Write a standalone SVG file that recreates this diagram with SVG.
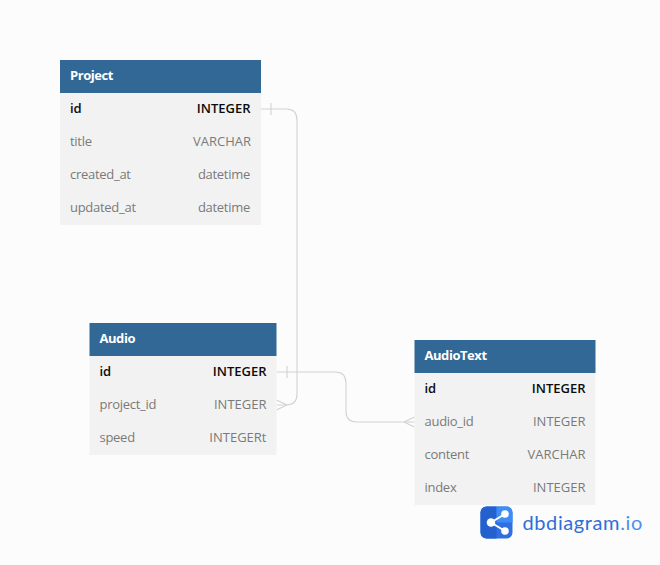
<svg xmlns="http://www.w3.org/2000/svg" width="660" height="565" viewBox="0 0 660 565">
<style>
text{font-family:"Open Sans","Noto Sans","Liberation Sans",sans-serif;font-size:13px}
.hd{fill:#316896}
.bd{fill:#f2f2f2}
.t{fill:#fff;font-weight:700;letter-spacing:-.45px}
.k{fill:#0c0c0c;font-weight:600}
.f{fill:#7a7a7a}
.n{letter-spacing:-.28px}
.e{text-anchor:end}
.c{fill:none;stroke:#d2d2d2;stroke-width:1.1}
</style>
<rect width="660" height="565" fill="#fcfcfc"/>
<g id="connectors">
<path class="c" d="M261 109H286Q297 109 297 120V394Q297 405 286 405H276.500"/>
<path class="c" d="M271 103V115M287 405L276.500 400M287 405L276.500 410"/>
<path class="c" d="M276.500 372H335Q346 372 346 383V411Q346 422 357 422H414.500"/>
<path class="c" d="M287 366V378M404 422L414.500 417M404 422L414.500 427"/>
</g>
<g id="Project">
<rect class="bd" x="60" y="93" width="201" height="132"/>
<rect class="hd" x="60" y="60" width="201" height="33"/>
<text class="t" x="70" y="80">Project</text>
<text class="k" x="70" y="113">id</text><text class="k e" x="250.500" y="113">INTEGER</text>
<text class="f n" x="70" y="146">title</text><text class="f e" x="251" y="146">VARCHAR</text>
<text class="f n" x="70" y="179">created_at</text><text class="f e n" x="250" y="179">datetime</text>
<text class="f n" x="70" y="212">updated_at</text><text class="f e n" x="250" y="212">datetime</text>
</g>
<g id="Audio">
<rect class="bd" x="89.500" y="356" width="187" height="99"/>
<rect class="hd" x="89.500" y="323" width="187" height="33"/>
<text class="t" x="99.500" y="343">Audio</text>
<text class="k" x="99.500" y="376">id</text><text class="k e" x="266.500" y="376">INTEGER</text>
<text class="f n" x="99.500" y="409">project_id</text><text class="f e" x="266.500" y="409">INTEGER</text>
<text class="f n" x="99.500" y="442">speed</text><text class="f e" x="266.500" y="442">INTEGERt</text>
</g>
<g id="AudioText">
<rect class="bd" x="414.500" y="373" width="181" height="132"/>
<rect class="hd" x="414.500" y="340" width="181" height="33"/>
<text class="t" x="424.500" y="360">AudioText</text>
<text class="k" x="424.500" y="393">id</text><text class="k e" x="585.500" y="393">INTEGER</text>
<text class="f n" x="424.500" y="426">audio_id</text><text class="f e" x="585.500" y="426">INTEGER</text>
<text class="f n" x="424.500" y="459">content</text><text class="f e" x="585.500" y="459">VARCHAR</text>
<text class="f n" x="424.500" y="492">index</text><text class="f e" x="585.500" y="492">INTEGER</text>
</g>
<g id="logo">
<rect x="480.500" y="506.500" width="32" height="32" rx="6" fill="#2f6fe0"/>
<path d="M486.500 506.500H496.500V538.500H486.500A6 6 0 0 1 480.500 532.500V512.500A6 6 0 0 1 486.500 506.500Z" fill="#2560cf"/>
<path d="M496.500 506.500H506.500A6 6 0 0 1 512.500 512.500V522.500H496.500Z" fill="#3f8cf5"/>
<path d="M505 514L491 522.500L505 531" fill="none" stroke="#fff" stroke-width="2"/>
<circle cx="505" cy="514" r="3.800" fill="#fff"/><circle cx="505" cy="531" r="3.800" fill="#fff"/><circle cx="491" cy="522.500" r="4.300" fill="#fff"/>
<text x="522.500" y="530" style="font-family:Lato,'Open Sans',sans-serif;font-size:20px;letter-spacing:.6px" fill="#2e6fd6">dbdiagram<tspan fill="#4a90ee">.io</tspan></text>
</g>
</svg>
